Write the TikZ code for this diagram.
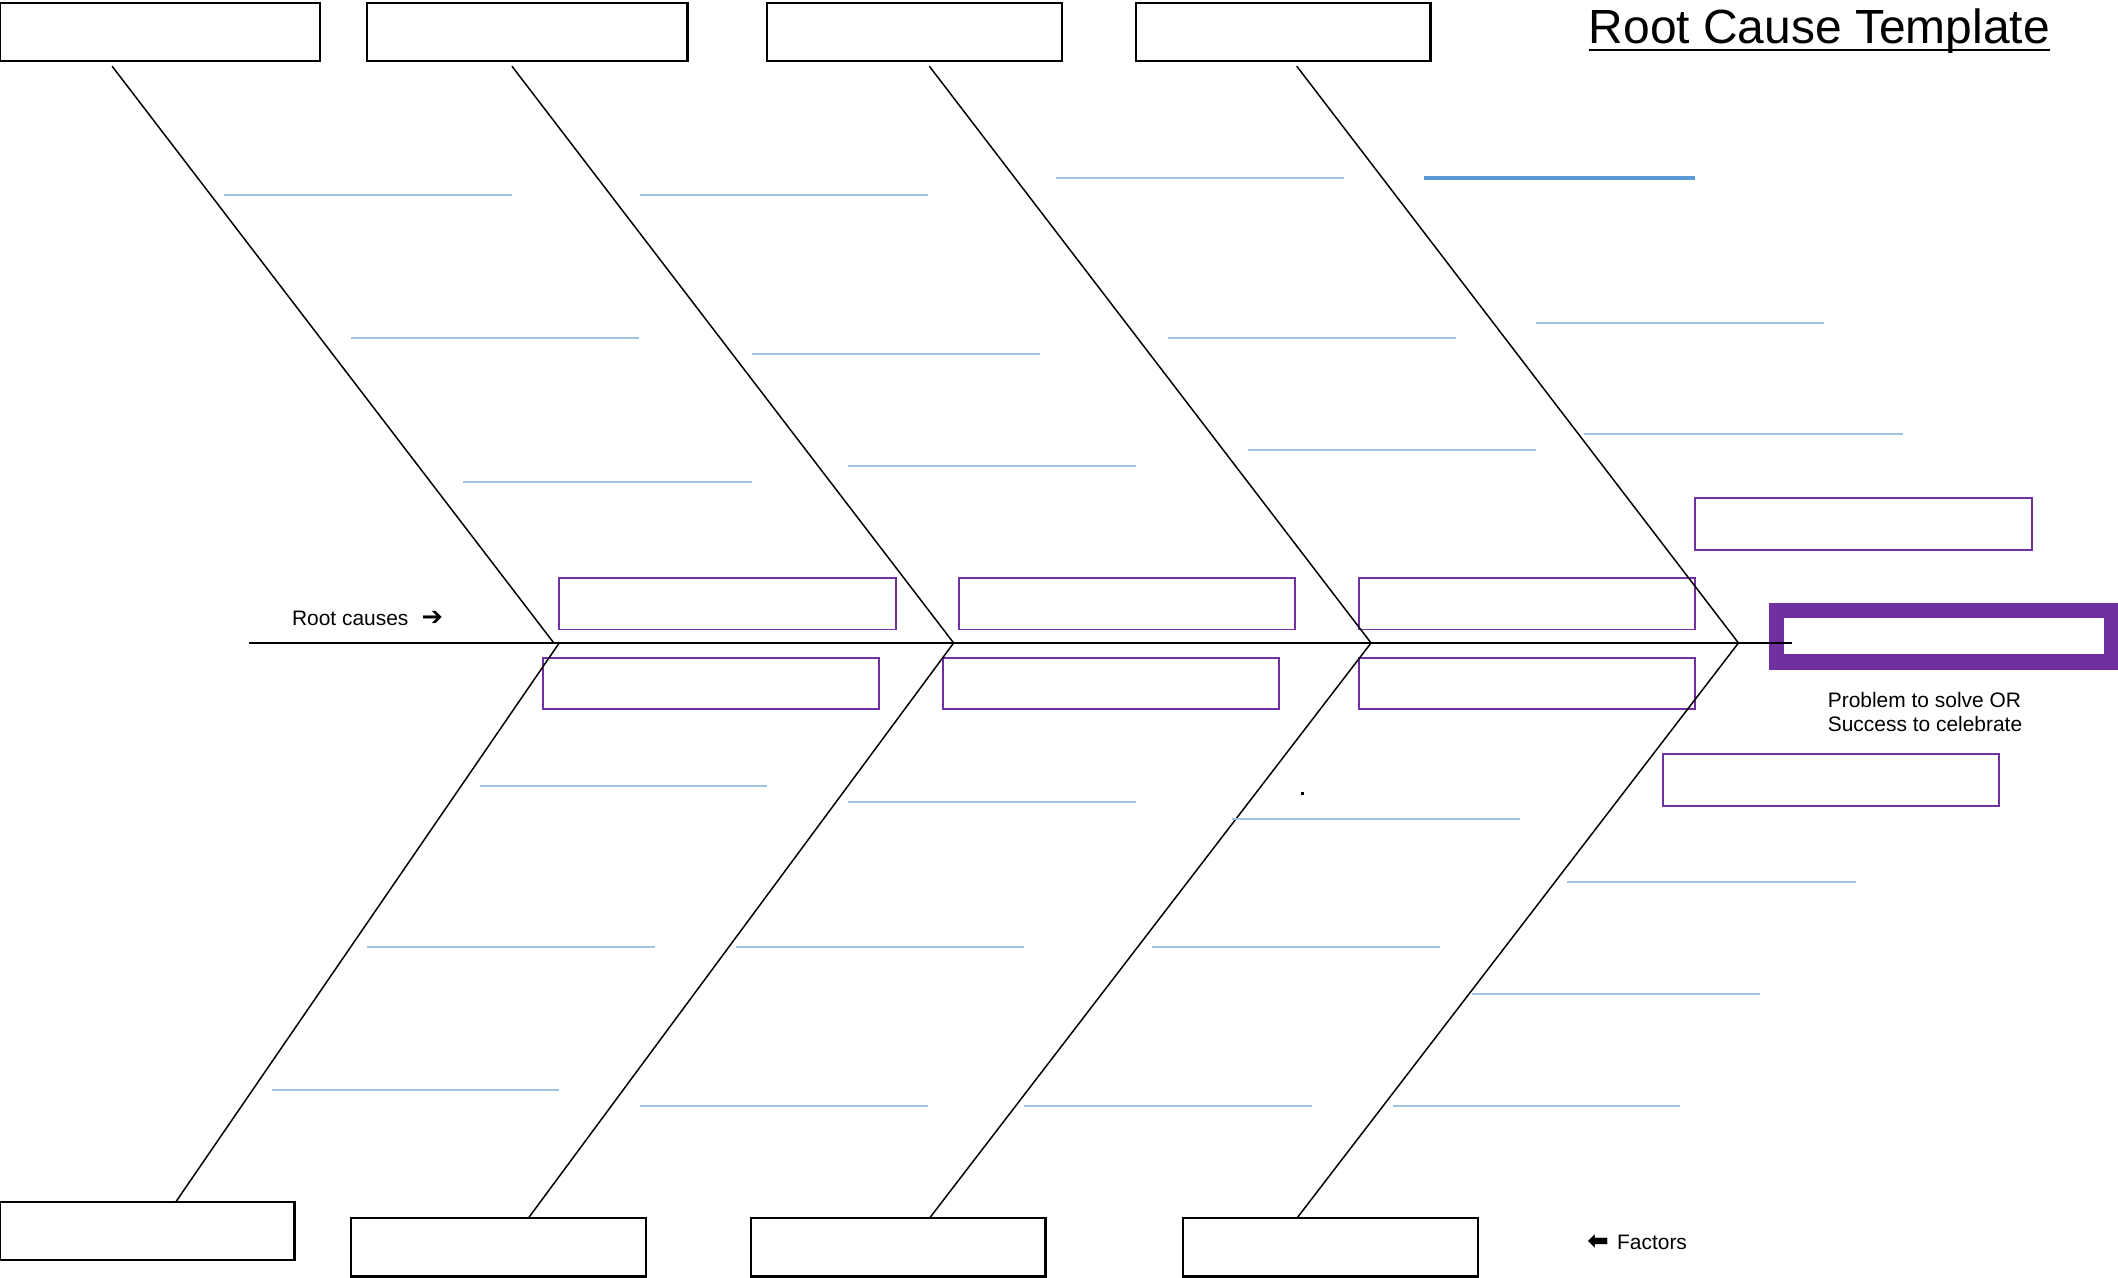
\documentclass[tikz,border=0pt]{standalone}
\usepackage{fontspec}
\setmainfont{Liberation Sans}
\newfontfamily\symfont{DejaVu Sans}
\definecolor{bluel}{HTML}{9DC3E6}
\definecolor{blued}{HTML}{5B9BD5}
\definecolor{purp}{HTML}{7030A0}
\begin{document}
\begin{tikzpicture}[x=1pt,y=-1pt,
  catbox/.style={draw=black, line width=1.6pt, minimum height=43pt, inner sep=0pt},
  wide/.style={minimum width=237pt},
  narrow/.style={minimum width=218pt},
  causebox/.style={draw=purp, line width=1.4pt, minimum width=249pt, minimum height=38pt, inner sep=0pt},
  headbox/.style={draw=purp, line width=11.5pt, minimum width=248pt, minimum height=38pt, inner sep=0pt},
  bone/.style={draw=black, line width=1.1pt},
  spine/.style={draw=black, line width=1.6pt},
  subline/.style={draw=bluel, line width=1.5pt},
  subthick/.style={draw=blued, line width=3.2pt},
  lbl/.style={font=\fontsize{15.5}{18}\selectfont, inner sep=0pt},
  arr/.style={font=\symfont\bfseries\fontsize{19}{20}\selectfont, inner sep=0pt}
]
\useasboundingbox (0,0) rectangle (1568,946);
\fill[white] (0,0) rectangle (1568,946);

% title
\node[font=\fontsize{35.5}{40}\selectfont, anchor=base west, inner sep=0pt] (title) at (1176,32) {Root Cause Template};
\draw[line width=2pt] ([yshift=-5pt]title.base west) -- ([yshift=-5pt]title.base east);

% category boxes
\node[catbox, wide]   (t1) at (118.5,23.5) {};
\node[catbox, wide]   (t2) at (390.5,23.5) {};
\node[catbox, narrow] (t3) at (677,23.5) {};
\node[catbox, narrow] (t4) at (950,23.5) {};
\node[catbox, narrow] (b1) at (109,911.5) {};
\node[catbox, narrow] (b2) at (369,923.5) {};
\node[catbox, narrow] (b3) at (665,923.5) {};
\node[catbox, narrow] (b4) at (985,923.5) {};

% cause boxes
\node[causebox] (u1) at (538.5,447) {};
\node[causebox] (u2) at (834.5,447) {};
\node[causebox] (u3) at (1130.5,447) {};
\node[causebox] (l1) at (526.5,506) {};
\node[causebox] (l2) at (822.5,506) {};
\node[causebox] (l3) at (1130.5,506) {};
\node[causebox] (r1) at (1379.5,388) {};
\node[causebox] (r2) at (1355.5,577.5) {};

% head
\node[headbox] (head) at (1439,471) {};

% spine
\coordinate (tail) at (184,476);
\coordinate (spineend) at (1327,476);
\draw[spine] (tail) -- (spineend);

% junctions
\coordinate (j1u) at (410,476);  \coordinate (j1l) at (414,476);
\coordinate (j2) at (706,476);
\coordinate (j3) at (1015,476);
\coordinate (j4) at (1287,476);
% bone ends at boxes
\coordinate (s1) at (83,49);   \coordinate (s2) at (379,49);
\coordinate (s3) at (688,49);  \coordinate (s4) at (960,49);
\coordinate (e1) at (130,890); \coordinate (e2) at (391,902);
\coordinate (e3) at (688,902); \coordinate (e4) at (960,902);

\draw[bone] (s1) -- (j1u);
\draw[bone] (s2) -- (j2);
\draw[bone] (s3) -- (j3);
\draw[bone] (s4) -- (j4);
\draw[bone] (j1l) -- (e1);
\draw[bone] (j2) -- (e2);
\draw[bone] (j3) -- (e3);
\draw[bone] (j4) -- (e4);

% sub-cause lines (upper)
\draw[subline] (166,144) -- (379,144);
\draw[subline] (474,144) -- (687,144);
\draw[subline] (782,132) -- (995,132);
\draw[subthick] (1054,132) -- (1255,132);
\draw[subline] (260,250) -- (473,250);
\draw[subline] (557,262) -- (770,262);
\draw[subline] (865,250) -- (1078,250);
\draw[subline] (1137,239) -- (1350,239);
\draw[subline] (343,357) -- (557,357);
\draw[subline] (628,345) -- (841,345);
\draw[subline] (924,333) -- (1137,333);
\draw[subline] (1173,321) -- (1409,321);
% sub-cause lines (lower)
\draw[subline] (355,582) -- (568,582);
\draw[subline] (628,594) -- (841,594);
\draw[subline] (912,606) -- (1125,606);
\draw[subline] (1160,653) -- (1374,653);
\draw[subline] (272,701) -- (485,701);
\draw[subline] (545,701) -- (758,701);
\draw[subline] (853,701) -- (1066,701);
\draw[subline] (1090,736) -- (1303,736);
\draw[subline] (201,807) -- (414,807);
\draw[subline] (474,819) -- (687,819);
\draw[subline] (758,819) -- (971,819);
\draw[subline] (1031,819) -- (1244,819);

% stray dot
\fill (963.5,586.5) rectangle (965.5,588.5);

% labels
\node[lbl, anchor=base west] (rc) at (216,463) {Root causes};
\node[arr, anchor=west] (rcarrow) at (312,457.5) {➔};
\node[lbl, anchor=north west, align=left] (prob) at (1353,512) {Problem to solve OR\\Success to celebrate};
\node[arr, anchor=west] (facarrow) at (1175,919.5) {⬅};
\node[lbl, anchor=base west] (fac) at (1197,925) {Factors};
\end{tikzpicture}
\end{document}
